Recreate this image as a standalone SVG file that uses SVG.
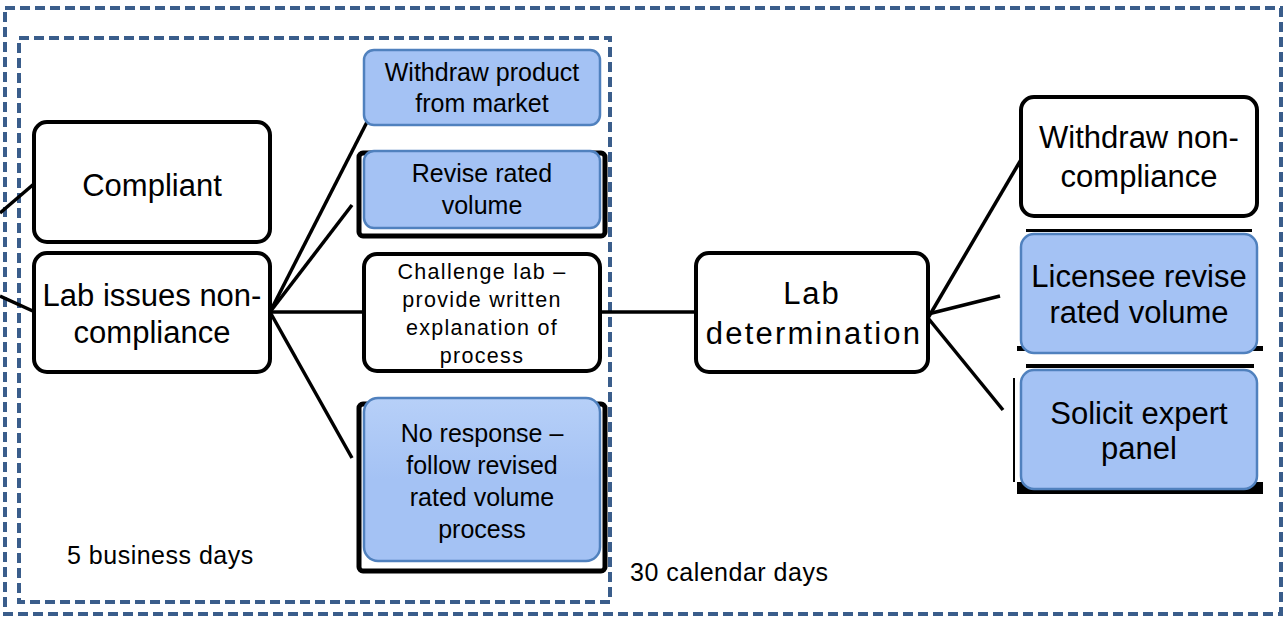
<svg xmlns="http://www.w3.org/2000/svg" width="1287" height="620" viewBox="0 0 1287 620">
<style>
.frame{fill:none;stroke:#3A5D8B;stroke-width:4;stroke-dasharray:10 5}
.wbox{fill:#fff;stroke:#000;stroke-width:4}
.bbox{fill:#A4C2F4;stroke:#5081BE;stroke-width:2.5}
.shadow{fill:#fff;stroke:#000;stroke-width:5}
.t{font-family:"Liberation Sans",Arial,sans-serif;fill:#000;text-anchor:middle}
.big{font-size:31px}
.mid{font-size:25px}
.sm{font-size:21.5px;letter-spacing:1.3px}
.lbl{font-family:"Liberation Sans",Arial,sans-serif;font-size:25px;fill:#000;letter-spacing:0.5px}
.conn{stroke:#000;stroke-width:3.5;fill:none}
</style>
<defs>
<linearGradient id="g1" x1="0" y1="0" x2="0" y2="1">
<stop offset="0" stop-color="#B7D0F8"/>
<stop offset="0.5" stop-color="#A4C2F4"/>
<stop offset="1" stop-color="#A4C2F4"/>
</linearGradient>
</defs>
<rect width="1287" height="620" fill="#fff"/>
<g id="frames">
<rect class="frame" x="5" y="8" width="1276" height="606"/>
<rect class="frame" x="19" y="38" width="591" height="564"/>
</g>
<g id="connectors">
<line class="conn" x1="0" y1="213" x2="35" y2="183"/>
<line class="conn" x1="0" y1="296" x2="35" y2="312"/>
<line class="conn" x1="270" y1="312" x2="367" y2="122"/>
<line class="conn" x1="270" y1="312" x2="352" y2="205"/>
<line class="conn" x1="270" y1="312" x2="364" y2="312"/>
<line class="conn" x1="270" y1="312" x2="352" y2="458"/>
<line class="conn" x1="600" y1="312" x2="696" y2="312"/>
<line class="conn" x1="928" y1="318" x2="1022" y2="158"/>
<line class="conn" x1="928" y1="314" x2="1000" y2="296"/>
<line class="conn" x1="928" y1="318" x2="1003" y2="410"/>
</g>
<g id="compliant">
<rect class="wbox" x="34" y="122" width="236" height="120" rx="13"/>
<text class="t big" x="152" y="196">Compliant</text>
</g>
<g id="lab-issues">
<rect class="wbox" x="34" y="253" width="236" height="119" rx="13"/>
<text class="t big" x="152" y="306">Lab issues non-</text>
<text class="t big" x="152" y="343">compliance</text>
</g>
<g id="withdraw-product">
<rect class="bbox" x="364" y="50" width="236" height="75" rx="10"/>
<text class="t mid" x="482" y="81">Withdraw product</text>
<text class="t mid" x="482" y="112">from market</text>
</g>
<g id="revise-rated">
<rect class="shadow" x="359" y="153" width="246" height="83" rx="4"/>
<rect class="bbox" x="364" y="151" width="236" height="77" rx="10"/>
<text class="t mid" x="482" y="182">Revise rated</text>
<text class="t mid" x="482" y="214">volume</text>
</g>
<g id="challenge">
<rect class="wbox" x="364" y="254" width="236" height="117" rx="13"/>
<text class="t sm" x="482" y="279">Challenge lab –</text>
<text class="t sm" x="482" y="307">provide written</text>
<text class="t sm" x="482" y="335">explanation of</text>
<text class="t sm" x="482" y="363">process</text>
</g>
<g id="no-response">
<rect class="shadow" x="359" y="404" width="246" height="167" rx="4"/>
<rect class="bbox" x="364" y="398" width="236" height="163" rx="14" style="fill:url(#g1)"/>
<text class="t mid" x="482" y="442">No response –</text>
<text class="t mid" x="482" y="474">follow revised</text>
<text class="t mid" x="482" y="506">rated volume</text>
<text class="t mid" x="482" y="538">process</text>
</g>
<g id="lab-determination">
<rect class="wbox" x="696" y="253" width="232" height="119" rx="13"/>
<text class="t big" x="812" y="304" letter-spacing="2">Lab</text>
<text class="t big" x="814" y="344" letter-spacing="2.2">determination</text>
</g>
<g id="withdraw-noncompliance">
<rect class="wbox" x="1021" y="97" width="236" height="119" rx="13"/>
<text class="t big" x="1139" y="148">Withdraw non-</text>
<text class="t big" x="1139" y="187">compliance</text>
</g>
<g id="licensee-revise">
<rect fill="#000" x="1026" y="229" width="226" height="3"/>
<rect fill="#000" x="1017" y="346" width="246" height="5"/>
<rect class="bbox" x="1021" y="234" width="236" height="119" rx="13"/>
<text class="t big" x="1139" y="287">Licensee revise</text>
<text class="t big" x="1139" y="323">rated volume</text>
</g>
<g id="solicit-expert">
<rect fill="#000" x="1026" y="364" width="228" height="4"/>
<rect fill="#000" x="1013" y="378" width="2" height="104"/>
<rect fill="#000" x="1017" y="482" width="246" height="12"/>
<rect class="bbox" x="1021" y="370" width="236" height="119" rx="13"/>
<text class="t big" x="1139" y="424">Solicit expert</text>
<text class="t big" x="1139" y="459">panel</text>
</g>
<g id="labels">
<text class="lbl" x="67" y="564">5 business days</text>
<text class="lbl" x="630" y="581">30 calendar days</text>
</g>
</svg>
